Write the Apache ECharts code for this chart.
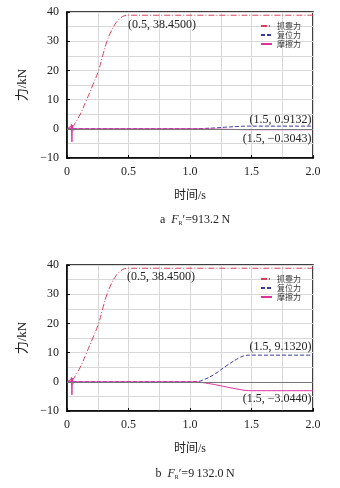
<!DOCTYPE html>
<html lang="zh">
<head>
    <meta charset="utf-8">
    <title>力-时间曲线</title>
    <script src="https://cdn.jsdelivr.net/npm/echarts@6/dist/echarts.min.js"></script>
    <style>
        html, body { margin: 0; padding: 0; background: #fff; }
        #main { width: 340px; height: 488px; }
    </style>
</head>
<body>
<div id="main"></div>
<script>
    // 抓靠力 (两图相同)
    var tGrip = [0, 0.035, 0.04, 0.045, 0.05, 0.075, 0.108, 0.16, 0.21, 0.257, 0.29, 0.325, 0.36, 0.39, 0.42, 0.45, 0.48, 0.5, 2.0];
    var gripForce = [0, 0.8, -0.4, 0.6, 0.8, 2.6, 5, 10, 15, 20, 25, 30, 33.5, 35.8, 37.4, 38.4, 38.85, 38.9, 38.9];

    // 图a 复位力 / 摩擦力
    var tResetA = [0, 1.0, 1.1, 1.2, 1.3, 1.4, 1.45, 1.5, 2.0];
    var resetA = [0, 0, 0.1, 0.3, 0.58, 0.82, 0.9, 0.913, 0.913];
    var tFricA = [0, 0.03, 0.035, 0.04, 0.045, 0.05, 0.055, 0.06, 1.0, 1.1, 1.2, 1.3, 1.4, 1.45, 1.5, 2.0];
    var fricA = [0, 0, 1.5, -4.5, 1.2, -0.6, 0.3, 0, 0, -0.04, -0.1, -0.18, -0.26, -0.29, -0.304, -0.304];

    // 图b 复位力 / 摩擦力
    var tResetB = [0, 1.05, 1.1, 1.2, 1.3, 1.4, 1.45, 1.5, 2.0];
    var resetB = [0, 0, 0.5, 2.6, 5.6, 8.2, 9.0, 9.132, 9.132];
    var tFricB = [0, 0.03, 0.035, 0.04, 0.045, 0.05, 0.055, 0.06, 1.05, 1.1, 1.2, 1.3, 1.4, 1.45, 1.5, 2.0];
    var fricB = [0, 0, 1.5, -4.5, 1.2, -0.6, 0.3, 0, 0, -0.25, -0.95, -1.8, -2.6, -2.95, -3.044, -3.044];

    var names = ['抓靠力', '复位力', '摩擦力'];
    var colors = ['#d8405a', '#3a3aa0', '#e0309a'];

    var SERIF = '"Liberation Serif", "Times New Roman", "Noto Sans CJK SC", serif';

    function pts(ts, vs) {
        return ts.map(function (t, i) { return [t, vs[i]]; });
    }

    function note(coord, text, pos, offset) {
        return {
            coord: coord,
            symbol: 'circle',
            symbolSize: 1,
            itemStyle: { color: 'rgba(0,0,0,0)' },
            label: {
                show: true,
                formatter: text,
                position: pos,
                distance: 1,
                offset: offset,
                color: '#222',
                fontFamily: SERIF,
                fontSize: 12
            }
        };
    }

    function xAxisFor(idx) {
        return {
            type: 'value', gridIndex: idx, min: 0, max: 2, interval: 0.5,
            name: '时间/s', nameLocation: 'middle', nameGap: 32,
            nameTextStyle: { fontFamily: SERIF, fontSize: 12, color: '#222' },
            axisLine: { onZero: false, lineStyle: { color: '#000', width: 1.5 } },
            axisTick: { inside: true, length: 3, lineStyle: { color: '#000' } },
            axisLabel: {
                color: '#222', fontFamily: SERIF, fontSize: 12, margin: 8,
                formatter: function (v) { return v === 0 ? '0' : v.toFixed(1); }
            },
            splitLine: { show: true, lineStyle: { color: '#d8d8d8' } },
            minorSplitLine: { show: true, lineStyle: { color: '#d8d8d8' } },
            minorTick: { splitNumber: 2 }
        };
    }

    function yAxisFor(idx) {
        return {
            type: 'value', gridIndex: idx, min: -10, max: 40, interval: 10,
            name: '力/kN', nameLocation: 'middle', nameGap: 30, nameRotate: 90,
            nameTextStyle: { fontFamily: SERIF, fontSize: 13, color: '#222' },
            axisLine: { show: true, lineStyle: { color: '#000', width: 1.5 } },
            axisTick: { show: true, inside: true, length: 3, lineStyle: { color: '#000' } },
            axisLabel: {
                color: '#222', fontFamily: SERIF, fontSize: 12, margin: 8,
                formatter: function (v) { return v < 0 ? '\u2212' + (-v) : String(v); }
            },
            splitLine: { show: true, lineStyle: { color: '#d8d8d8' } },
            minorSplitLine: { show: true, lineStyle: { color: '#d8d8d8' } },
            minorTick: { splitNumber: 2 }
        };
    }

    function line(idx, k, data, type, extra) {
        var s = {
            name: names[k], type: 'line', xAxisIndex: idx, yAxisIndex: idx,
            data: data, symbol: 'none', smooth: 0.4, animation: false,
            lineStyle: { color: colors[k], width: 1, type: type },
            itemStyle: { color: colors[k] }
        };
        for (var key in extra) s[key] = extra[key];
        return s;
    }

    var zeroLine = {
        silent: true, symbol: 'none', label: { show: false },
        lineStyle: { color: '#777', width: 1, type: 'solid' },
        data: [{ yAxis: 0 }]
    };

    function legendFor(top) {
        return {
            data: names, orient: 'vertical', left: 255, top: top,
            itemWidth: 11, itemHeight: 6, itemGap: 1,
            itemStyle: { opacity: 0 },
            textStyle: { fontFamily: '"Noto Sans CJK SC", sans-serif', fontSize: 8, color: '#333', lineHeight: 8 }
        };
    }

    function caption(top, letter, value) {
        return {
            left: 190, top: top, textAlign: 'center',
            text: '{n|' + letter + '  }{i|F}{s|R}{n|\u2032=' + value + '\u2009N}',
            textStyle: {
                rich: {
                    n: { fontFamily: SERIF, fontSize: 12, fontWeight: 'normal', color: '#222' },
                    i: { fontFamily: SERIF, fontSize: 12, fontWeight: 'normal', fontStyle: 'italic', color: '#222' },
                    s: { fontFamily: SERIF, fontSize: 6, fontWeight: 'normal', color: '#222', padding: [6, 0, 0, 0] }
                }
            }
        };
    }

    var chart = echarts.init(document.getElementById('main'));
    chart.setOption({
        backgroundColor: '#fff',
        animation: false,
        title: [caption(209, 'a', '913.2'), caption(463, 'b', '9\u2009132.0')],
        legend: [legendFor(17), legendFor(270)],
        grid: [
            { left: 67, right: 27, top: 12, height: 146, show: true, borderColor: '#000', borderWidth: 1.5 },
            { left: 67, right: 27, top: 265, height: 146, show: true, borderColor: '#000', borderWidth: 1.5 }
        ],
        xAxis: [xAxisFor(0), xAxisFor(1)],
        yAxis: [yAxisFor(0), yAxisFor(1)],
        series: [
            line(0, 0, pts(tGrip, gripForce), [6, 2, 1, 2], {
                markLine: zeroLine,
                markPoint: { data: [note([0.5, 38.45], '(0.5, 38.4500)', 'right', [-2, 8])] }
            }),
            line(0, 1, pts(tResetA, resetA), [4, 2], {
                markPoint: { data: [note([2.0, 0.9132], '(1.5, 0.9132)', 'left', [0, -6])] }
            }),
            line(0, 2, pts(tFricA, fricA), 'solid', {
                markPoint: { data: [note([2.0, -0.3043], '(1.5, \u22120.3043)', 'left', [0, 9])] }
            }),
            line(1, 0, pts(tGrip, gripForce), [6, 2, 1, 2], {
                markLine: zeroLine,
                markPoint: { data: [note([0.5, 38.45], '(0.5, 38.4500)', 'right', [-3, 7])] }
            }),
            line(1, 1, pts(tResetB, resetB), [4, 2], {
                markPoint: { data: [note([2.0, 9.132], '(1.5, 9.1320)', 'left', [0, -8])] }
            }),
            line(1, 2, pts(tFricB, fricB), 'solid', {
                markPoint: { data: [note([2.0, -3.044], '(1.5, \u22123.0440)', 'left', [0, 8])] }
            })
        ]
    });
</script>
</body>
</html>
